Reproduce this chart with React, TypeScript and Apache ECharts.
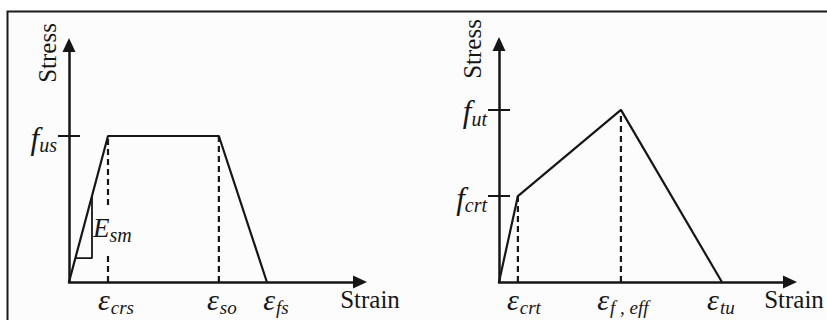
import React, { useEffect, useRef } from 'react';
import * as echarts from 'echarts';

// ---- Left panel (trapezoidal model) ----
const leftStrainSubs = ['crs', 'so', 'fs'];
const leftStrainValues = [1.34, 5.15, 6.8];
const leftStressSubs = ['us'];
const leftStressValues = [6.16];
const leftCurveX = [0, 1.34, 5.15, 6.8];
const leftCurveY = [0, 6.16, 6.16, 0];
const modulusTriX = [0.79, 0.79, 0.22];
const modulusTriY = [3.63, 1.01, 1.01];
const modulusLabelPoint = [0.79, 2.2];
const modulusLabelGap = [1.14, 3.25]; // where the dashed line is interrupted by the E_sm label

// ---- Right panel (bilinear softening model) ----
const rightStrainSubs = ['crt', 'f , eff', 'tu'];
const rightStrainValues = [0.65, 4.19, 7.66];
const rightStressSubs = ['crt', 'ut'];
const rightStressValues = [3.61, 7.23];
const rightCurveX = [0, 0.65, 4.19, 7.66];
const rightCurveY = [0, 3.61, 7.23, 0];

const ink = '#161616';
const paper = '#fcfcfc';
const serif = "'Liberation Serif', 'DejaVu Serif', serif";

const zip = (xs: number[], ys: number[]) => xs.map((x, i) => [x, ys[i]]);

// horizontal label nudges (px) so that the hand-placed labels line up like the original
const leftNudge = [8, 3, 9];
const rightNudge = [6, 2, -1];

function epsRich(nudges: number[]) {
  const rich: Record<string, any> = {};
  nudges.forEach((n, i) => {
    rich['e' + i] = {
      fontFamily: serif, fontStyle: 'italic', fontSize: 30, lineHeight: 33, verticalAlign: 'top', color: ink,
      padding: [0, 0, 0, n > 0 ? 2 * n : 0],
    };
    rich['s' + i] = {
      fontFamily: serif, fontStyle: 'italic', fontSize: 19, lineHeight: 18, verticalAlign: 'bottom', color: ink,
      padding: [0, n < 0 ? -2 * n : 0, 0, 1],
    };
  });
  return rich;
}

const fRich = {
  f: { fontFamily: serif, fontStyle: 'italic', fontSize: 31, lineHeight: 34, verticalAlign: 'middle', color: ink },
  s: { fontFamily: serif, fontStyle: 'italic', fontSize: 20, lineHeight: 16, verticalAlign: 'bottom', color: ink },
};

function xAxisFor(grid: number, values: number[], subs: string[], nudges: number[], nameGap: number) {
  return {
    type: 'value',
    gridIndex: grid,
    min: 0,
    max: 10,
    splitLine: { show: false },
    axisLine: {
      show: true,
      symbol: ['none', 'triangle'],
      symbolSize: [13, 14],
      lineStyle: { color: ink, width: 2.5 },
    },
    axisTick: { show: false },
    axisLabel: {
      show: true,
      customValues: values,
      margin: 2,
      formatter: (v: number) => {
        const i = values.findIndex((x) => Math.abs(x - v) < 1e-6);
        return `{e${i}|ε}{s${i}|${subs[i] ?? ''}}`;
      },
      rich: epsRich(nudges),
    },
    name: 'Strain',
    nameLocation: 'end',
    nameGap,
    nameTextStyle: {
      fontFamily: serif,
      fontSize: 25,
      color: ink,
      align: 'center',
      verticalAlign: 'top',
      padding: [5, 0, 0, 0],
    },
  };
}

function yAxesFor(grid: number, values: number[], subs: string[], nameGap: number, namePad: number) {
  return [
    {
      type: 'value',
      gridIndex: grid,
      min: 0,
      max: 10,
      position: 'left',
      splitLine: { show: false },
      axisLine: {
        show: true,
        symbol: ['none', 'triangle'],
        symbolSize: [13, 14],
        lineStyle: { color: ink, width: 2.5 },
      },
      axisTick: {
        show: true,
        customValues: values,
        length: 11,
        inside: false,
        lineStyle: { color: ink, width: 2 },
      },
      axisLabel: {
        show: true,
        customValues: values,
        margin: 12,
        padding: [4, 0, 0, 0],
        formatter: (v: number) => {
          const i = values.findIndex((x) => Math.abs(x - v) < 1e-6);
          return `{f|f}{s|${subs[i] ?? ''}}`;
        },
        rich: fRich,
      },
      name: 'Stress',
      nameLocation: 'end',
      nameRotate: 90,
      nameGap,
      nameTextStyle: {
        fontFamily: serif,
        fontSize: 25,
        color: ink,
        align: 'center',
        verticalAlign: 'bottom',
        padding: [0, 0, namePad, 0],
      },
    },
    {
      type: 'value',
      gridIndex: grid,
      min: 0,
      max: 10,
      position: 'left',
      offset: 0,
      splitLine: { show: false },
      axisLine: { show: false },
      axisTick: {
        show: true,
        customValues: values,
        length: 11,
        inside: true,
        lineStyle: { color: ink, width: 2 },
      },
      axisLabel: { show: false },
    },
  ];
}

function lineSeries(xAxisIndex: number, yAxisIndex: number, data: number[][], dashed = false, width = 2.2) {
  return {
    type: 'line',
    xAxisIndex,
    yAxisIndex,
    data,
    symbol: 'none',
    silent: true,
    clip: false,
    z: 2,
    lineStyle: { color: ink, width, type: dashed ? [6, 4] : 'solid' },
  };
}

export default function App() {
  const ref = useRef<HTMLDivElement>(null);

  useEffect(() => {
    if (!ref.current) return;
    const chart = echarts.init(ref.current, undefined, { renderer: 'svg' });

    const xCrs = leftStrainValues[0];
    const xSo = leftStrainValues[1];
    const leftDashes = [
      lineSeries(0, 0, [[xCrs, 0], [xCrs, modulusLabelGap[0]]], true, 2.2),
      lineSeries(0, 0, [[xCrs, modulusLabelGap[1]], [xCrs, leftCurveY[1]]], true, 2.2),
      lineSeries(0, 0, [[xSo, 0], [xSo, leftCurveY[2]]], true, 2.2),
    ];
    const rightDashes = rightStrainValues.slice(0, 2).map((x, i) =>
      lineSeries(1, 2, [[x, 0], [x, rightCurveY[i + 1]]], true, 2.2)
    );

    chart.setOption({
      animation: false,
      backgroundColor: '#ffffff',
      graphic: [
        {
          type: 'rect',
          z: -10,
          silent: true,
          shape: { x: 7.5, y: 11.5, width: 840, height: 340 },
          style: { fill: paper, stroke: '#1a1a1a', lineWidth: 2 },
        },
      ],
      grid: [
        { left: 69, top: 45, width: 291, height: 237 },
        { left: 499, top: 44, width: 291, height: 238 },
      ],
      xAxis: [
        xAxisFor(0, leftStrainValues, leftStrainSubs, leftNudge, 10),
        xAxisFor(1, rightStrainValues, rightStrainSubs, rightNudge, 4),
      ],
      yAxis: [
        ...yAxesFor(0, leftStressValues, leftStressSubs, -8, 9),
        ...yAxesFor(1, rightStressValues, rightStressSubs, -5, 14),
      ],
      series: [
        lineSeries(0, 0, zip(leftCurveX, leftCurveY)),
        ...leftDashes,
        lineSeries(0, 0, zip(modulusTriX, modulusTriY), false, 1.8),
        {
          type: 'scatter',
          xAxisIndex: 0,
          yAxisIndex: 0,
          data: [modulusLabelPoint],
          symbolSize: 0,
          silent: true,
          z: 5,
          itemStyle: { opacity: 1, color: ink },
          label: {
            show: true,
            position: 'right',
            distance: 1,
            color: ink,
            opacity: 1,
            textBorderWidth: 0,
            formatter: '{e|E}{s|sm}',
            rich: {
              e: { fontFamily: serif, fontStyle: 'italic', fontSize: 27, lineHeight: 30, verticalAlign: 'top', color: ink },
              s: { fontFamily: serif, fontStyle: 'italic', fontSize: 20, lineHeight: 19, verticalAlign: 'bottom', color: ink },
            },
          },
        },
        lineSeries(1, 2, zip(rightCurveX, rightCurveY)),
        ...rightDashes,
      ],
    });

    return () => chart.dispose();
  }, []);

  return (
    <div
      ref={ref}
      style={{ position: 'absolute', left: 0, top: 0, width: 827, height: 320 }}
    />
  );
}
